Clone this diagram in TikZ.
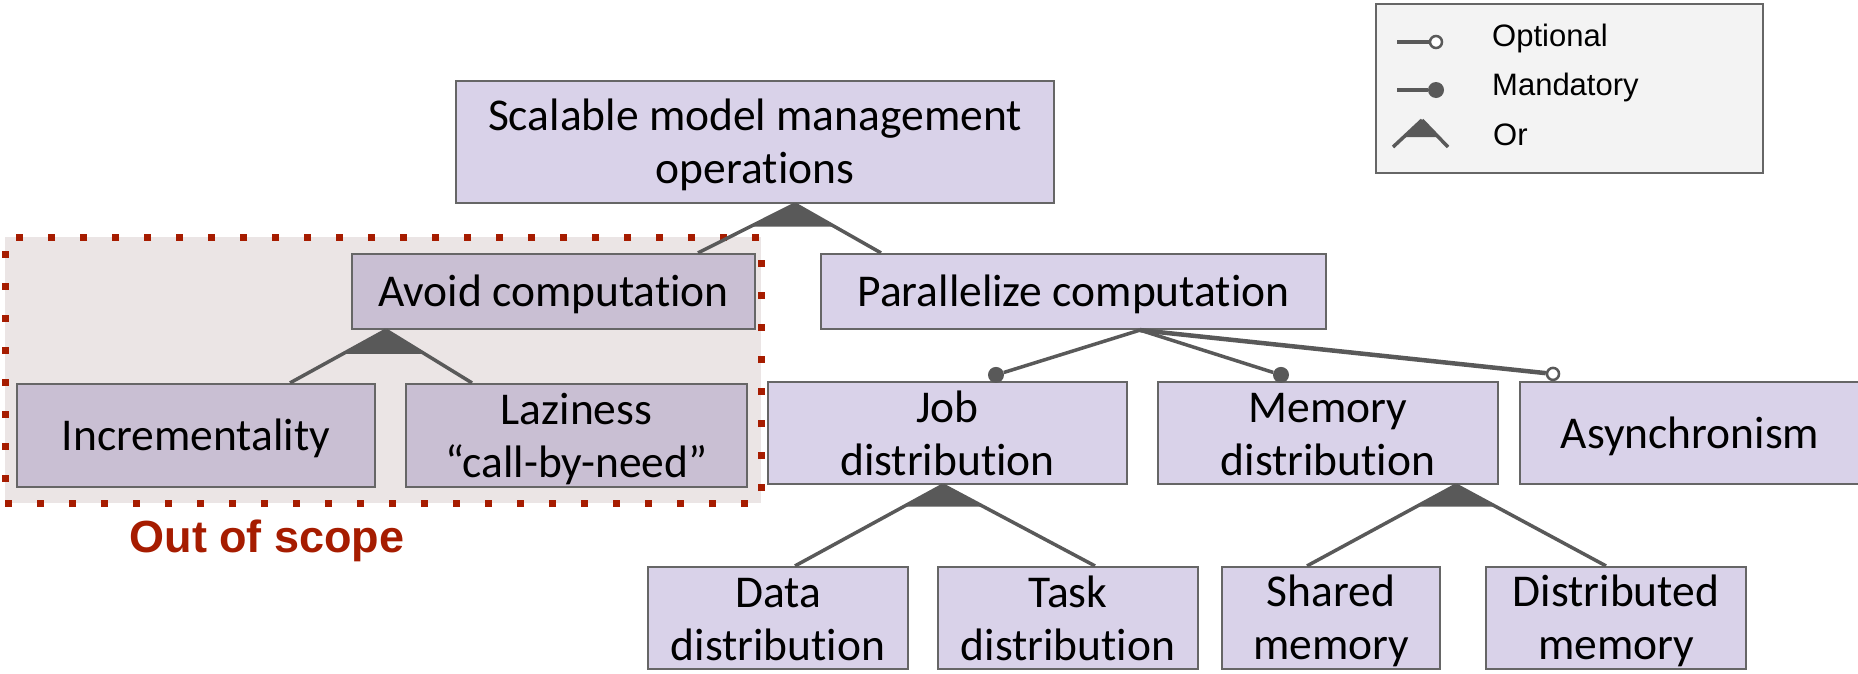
\documentclass[tikz,border=0pt]{standalone}
\usepackage{fontspec}
\setmainfont{Carlito}[Ligatures=NoCommon]
\newfontfamily\arialfont{Liberation Sans}
\usetikzlibrary{calc}
\definecolor{nodefill}{RGB}{217,210,233}
\definecolor{oosfill}{RGB}{201,191,211}
\definecolor{oosbg}{RGB}{235,229,229}
\definecolor{bordergrey}{RGB}{102,102,102}
\definecolor{linegrey}{RGB}{89,89,89}
\definecolor{scopered}{RGB}{166,28,0}
\definecolor{legendfill}{RGB}{243,243,243}
\newcommand\ls{\rule[-6pt]{0pt}{44pt}}
\begin{document}
\begin{tikzpicture}[x=1pt,y=-1pt,
  box/.style={draw=bordergrey, line width=2.2pt, fill=nodefill, inner sep=0pt, align=center, font=\fontsize{45.5}{53}\selectfont},
  oosbox/.style={box, fill=oosfill},
  conn/.style={draw=linegrey, line width=3.5pt},
  mandot/.style={circle, fill=linegrey, inner sep=0pt, minimum size=16pt},
  optdot/.style={circle, draw=linegrey, line width=2.5pt, fill=white, inner sep=0pt, minimum size=12pt},
  legtext/.style={anchor=base west, inner sep=0pt, font=\arialfont\fontsize{31}{37}\selectfont},
  scopetext/.style={anchor=base, inner sep=0pt, text=scopered, font=\arialfont\bfseries\fontsize{45}{54}\selectfont},
  scopebg/.style={fill=oosbg, inner sep=0pt},
  scopeborder/.style={draw=scopered, line width=7pt, dash pattern=on 7pt off 25pt, inner sep=0pt},
]
\useasboundingbox (0,0) rectangle (1858,673);
\fill[white] (0,0) rectangle (1858,673);

% out-of-scope region
\node[scopebg, minimum width=756pt, minimum height=266pt] (oosregion) at (383,370) {};

% nodes
\node[box, minimum width=598pt, minimum height=122pt] (top) at (755,142) {\ls Scalable model management\\\ls operations};
\node[oosbox, minimum width=403pt, minimum height=75pt] (avoid) at (553.5,291.5) {\ls Avoid computation};
\node[box, minimum width=505pt, minimum height=75pt] (par) at (1073.5,291.5) {\ls Parallelize computation};
\node[oosbox, minimum width=358pt, minimum height=103pt] (incr) at (196,435.5) {\ls Incrementality};
\node[oosbox, minimum width=341pt, minimum height=103pt] (lazy) at (576.5,435.5) {\ls Laziness\\\ls “call-by-need”};
\node[box, minimum width=359pt, minimum height=102pt] (job) at (947.5,433) {\ls Job\\\ls distribution};
\node[box, minimum width=340pt, minimum height=102pt] (mem) at (1328,433) {\ls Memory\\\ls distribution};
\node[box, minimum width=340pt, minimum height=102pt] (async) at (1690,433) {\ls Asynchronism};
\node[box, minimum width=260pt, minimum height=102pt] (data) at (778,618) {\ls Data\\\ls distribution};
\node[box, minimum width=260pt, minimum height=102pt] (task) at (1068,618) {\ls Task\\\ls distribution};
\node[box, minimum width=218pt, minimum height=102pt] (shared) at (1331,618) {\ls Shared\\\ls memory};
\node[box, minimum width=260pt, minimum height=102pt] (dist) at (1616,618) {\ls Distributed\\\ls memory};

\node[scopeborder, minimum width=756pt, minimum height=266pt] (oosborder) at (383,370) {};
\node[scopetext] (oostext) at (267,552) {Out of scope};

% Or: top -> avoid, par
\coordinate (ta) at ([xshift=40pt]top.south);
\coordinate (tl) at ([xshift=144.5pt]avoid.north);
\coordinate (tr) at ([xshift=-192.5pt]par.north);
\fill[linegrey] (ta) -- ($(ta)!0.46!(tl)$) -- ($(ta)!0.46!(tr)$) -- cycle;
\draw[conn] (ta) -- (tl);
\draw[conn] (ta) -- (tr);

% Or: avoid -> incr, lazy
\coordinate (aa) at ([xshift=-167.5pt]avoid.south);
\coordinate (al) at ([xshift=94pt]incr.north);
\coordinate (ar) at ([xshift=-104.5pt]lazy.north);
\fill[linegrey] (aa) -- ($(aa)!0.45!(al)$) -- ($(aa)!0.45!(ar)$) -- cycle;
\draw[conn] (aa) -- (al);
\draw[conn] (aa) -- (ar);

% Or: job -> data, task
\coordinate (ja) at ([xshift=-4.5pt]job.south);
\coordinate (jl) at ([xshift=17pt]data.north);
\coordinate (jr) at ([xshift=27pt]task.north);
\fill[linegrey] (ja) -- ($(ja)!0.265!(jl)$) -- ($(ja)!0.265!(jr)$) -- cycle;
\draw[conn] (ja) -- (jl);
\draw[conn] (ja) -- (jr);

% Or: mem -> shared, dist
\coordinate (ma) at ([xshift=128pt]mem.south);
\coordinate (ml) at ([xshift=-24pt]shared.north);
\coordinate (mr) at ([xshift=-10pt]dist.north);
\fill[linegrey] (ma) -- ($(ma)!0.265!(ml)$) -- ($(ma)!0.265!(mr)$) -- cycle;
\draw[conn] (ma) -- (ml);
\draw[conn] (ma) -- (mr);

% par -> job, mem (mandatory), async (optional)
\coordinate (pa) at ([xshift=66.5pt]par.south);
\node[mandot] (jobdot) at ([xshift=48.5pt,yshift=6pt]job.north) {};
\node[mandot] (memdot) at ([xshift=-47pt,yshift=6pt]mem.north) {};
\node[optdot] (asyncdot) at ([xshift=-137pt,yshift=7pt]async.north) {};
\draw[conn] (pa) -- (jobdot);
\draw[conn] (pa) -- (memdot);
\draw[conn, line width=4.5pt] (pa) -- (asyncdot);

% legend
\node[draw=bordergrey, line width=2pt, fill=legendfill, inner sep=0pt, minimum width=387pt, minimum height=169pt] (legend) at (1569.5,88.5) {};
\node[optdot] (legopt) at (1436,42) {};
\coordinate (legopts) at (1397,42);
\draw[conn] (legopts) -- (legopt);
\node[mandot] (legman) at (1436,90) {};
\coordinate (legmans) at (1397,90);
\draw[conn] (legmans) -- (legman);
\coordinate (lora) at (1422,120);
\coordinate (lorl) at (1393,147);
\coordinate (lorr) at (1448,147);
\fill[linegrey] (lora) -- ($(lora)!0.63!(lorl)$) -- ($(lora)!0.63!(lorr)$) -- cycle;
\draw[conn] (lora) -- (lorl);
\draw[conn] (lora) -- (lorr);
\node[legtext] (legoptt) at (1492,46) {Optional};
\node[legtext] (legmant) at (1492,95) {Mandatory};
\node[legtext] (legort) at (1493,145) {Or};
\end{tikzpicture}
\end{document}
